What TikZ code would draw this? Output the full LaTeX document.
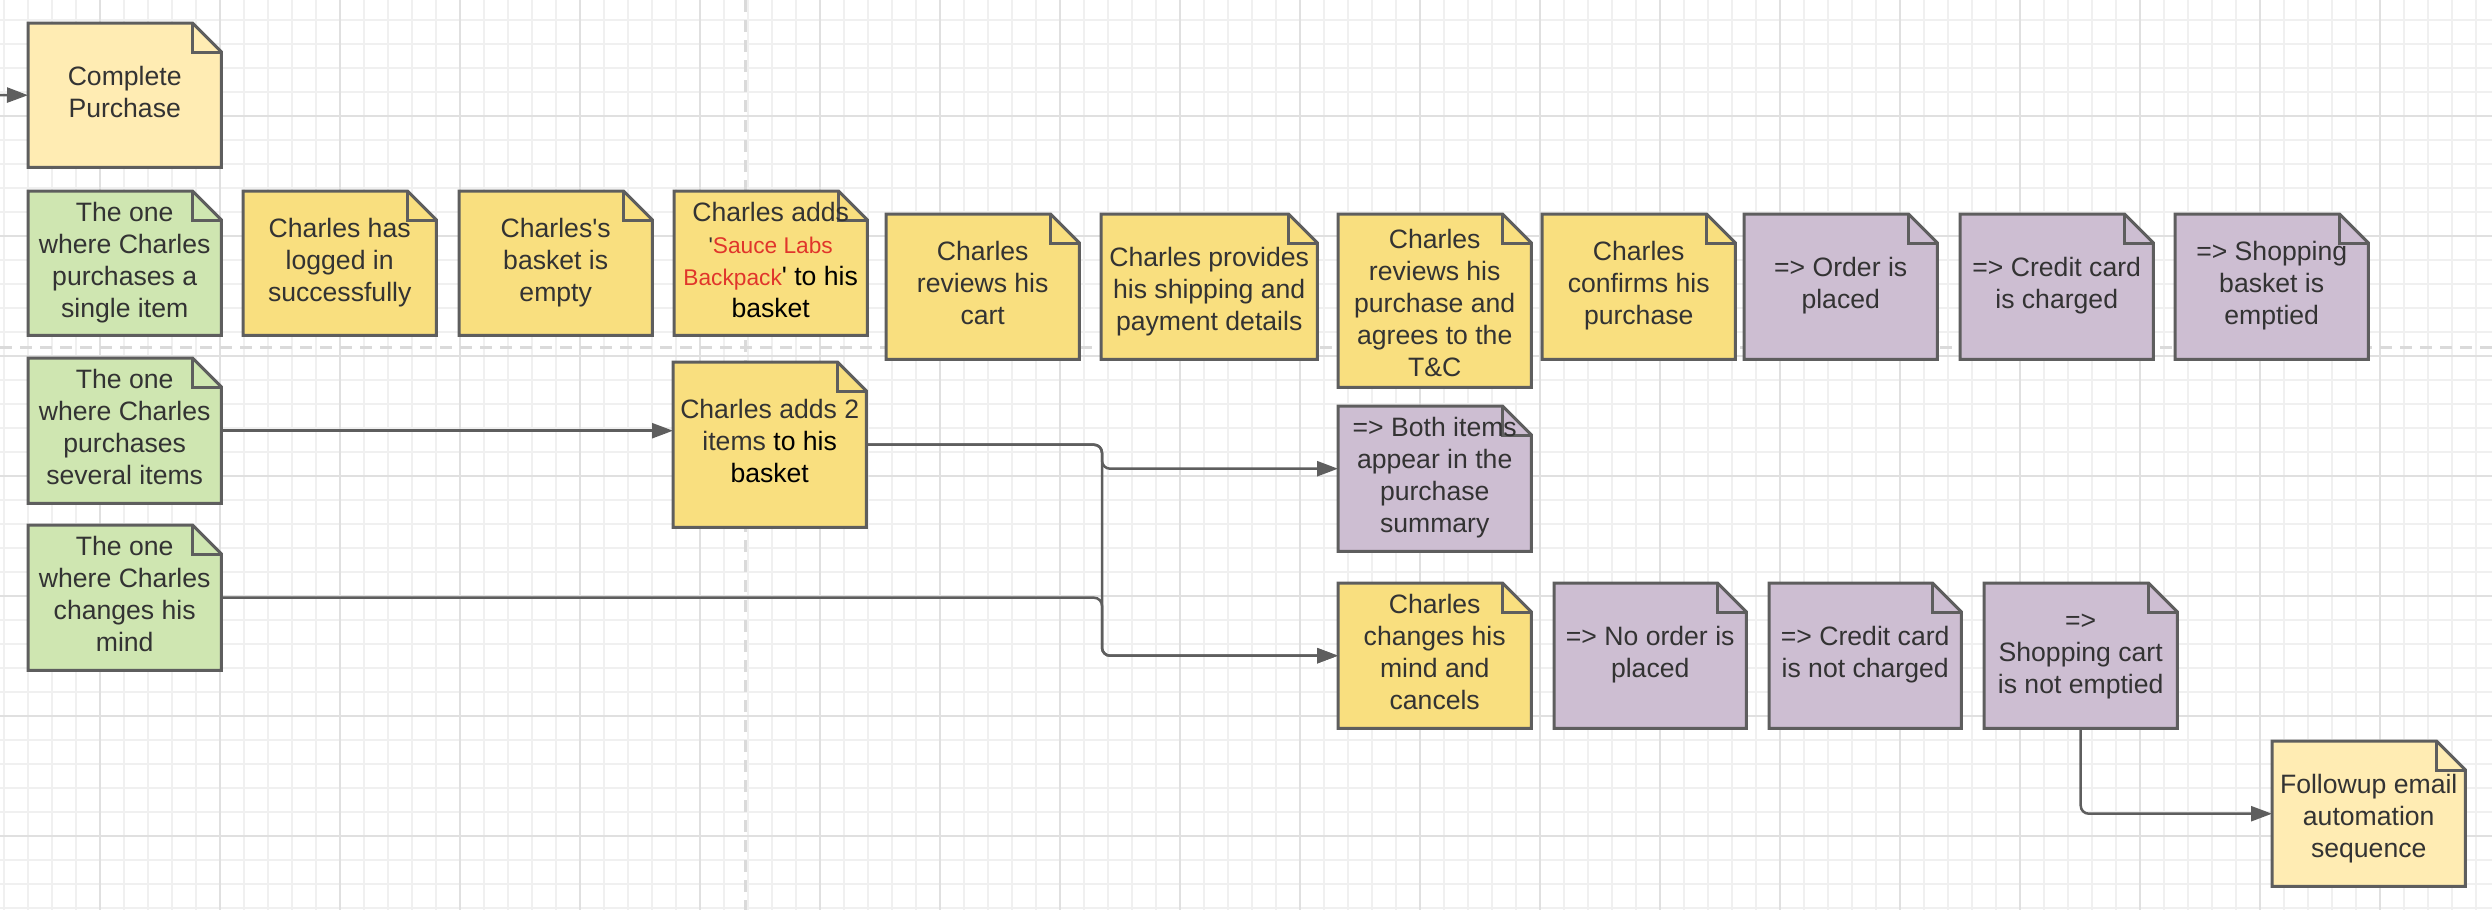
\documentclass[tikz,border=0pt]{standalone}
\usepackage{fontspec}
\setmainfont{Liberation Sans}
\usetikzlibrary{arrows.meta}
\definecolor{lyellow}{HTML}{FFECB3}
\definecolor{yellowf}{HTML}{F9DF7F}
\definecolor{greenf}{HTML}{CFE6B1}
\definecolor{purplef}{HTML}{CDBED2}
\definecolor{edgec}{HTML}{5E5E5E}
\definecolor{txt}{HTML}{333333}
\definecolor{redt}{HTML}{E0352B}
\definecolor{gridminor}{HTML}{F0F0F0}
\definecolor{gridmajor}{HTML}{E0E0E0}
\definecolor{sepc}{HTML}{DADADA}
\pgfdeclarelayer{gridlayer}
\pgfdeclarelayer{bglayer}
\pgfsetlayers{gridlayer,bglayer,main}
\tikzset{
  notetext/.style={draw=none, inner sep=0pt, align=center, text=txt,
    font=\fontsize{26.6}{32}\selectfont},
  noteline/.style={draw=edgec, line width=3pt, line join=miter},
  conn/.style={draw=edgec, line width=2.5pt, rounded corners=8pt,
    -{Triangle[length=21pt,width=15pt]}},
  sepline/.style={draw=sepc, line width=3pt, dash pattern=on 12pt off 8pt},
}
% #1 top strut (text nudge), #2 name, #3 x, #4 y, #5 width, #6 height, #7 fill, #8 text
\newcommand\sticky[8][20pt]{%
  \node[notetext, minimum width=#5pt, minimum height=#6pt, anchor=north west] (#2) at (#3,#4)
    {\rule{0pt}{#1}#8\rule[-8.2pt]{0pt}{0pt}};
  \begin{pgfonlayer}{bglayer}
    \draw[noteline, fill=#7] (#2.north west) -- ([xshift=-29pt]#2.north east)
      -- ([yshift=-29pt]#2.north east) -- (#2.south east) -- (#2.south west) -- cycle;
    \draw[noteline] ([xshift=-29pt]#2.north east) -- ([xshift=-29pt,yshift=-29pt]#2.north east)
      -- ([yshift=-29pt]#2.north east);
  \end{pgfonlayer}}
\newcommand\smallred[1]{{\fontsize{22.7}{28}\selectfont #1}}
\begin{document}
\begin{tikzpicture}[x=1pt, y=-1pt]
\useasboundingbox (0,0) rectangle (2492,910);
\begin{pgfonlayer}{gridlayer}
  \fill[white] (0,0) rectangle (2492,910);
  \foreach \x in {4,28,...,2492} \draw[gridminor, line width=1.3pt] (\x,0) -- (\x,910);
  \foreach \y in {20,44,...,910} \draw[gridminor, line width=1.3pt] (0,\y) -- (2492,\y);
  \foreach \x in {100,220,...,2492} \draw[gridmajor, line width=1.8pt] (\x,0) -- (\x,910);
  \foreach \y in {116,236,...,910} \draw[gridmajor, line width=1.8pt] (0,\y) -- (2492,\y);
  \draw[sepline] (0,347) -- (2492,347);
  \draw[sepline] (745,0) -- (745,910);
\end{pgfonlayer}

% top
\sticky{complete}{28}{23}{193}{144}{lyellow}{Complete\\Purchase}

% row 1
\sticky{green1}{28}{191}{193}{144}{greenf}{The one\\where Charles\\purchases a\\single item}
\sticky{logged}{243}{191}{193}{144}{yellowf}{Charles has\\logged in\\successfully}
\sticky{empty}{459}{191}{193}{144}{yellowf}{Charles\textquotesingle s\\basket is\\empty}
\sticky{adds1}{674}{191}{193}{144}{yellowf}{Charles adds\\\smallred{\textquotesingle\textcolor{redt}{Sauce Labs}}\\\smallred{\textcolor{redt}{Backpack}}\textcolor{black}{\textquotesingle\ to his}\\\textcolor{black}{basket}}
\sticky{cart}{886}{214}{193}{145}{yellowf}{Charles\\reviews his\\cart}
\sticky[32pt]{ship}{1101}{214}{216}{145}{yellowf}{Charles provides\\his shipping and\\payment details}
\sticky[32pt]{tandc}{1338}{214}{193}{173}{yellowf}{Charles\\reviews his\\purchase and\\agrees to the\\T\&C}
\sticky{confirm}{1542}{214}{193}{145}{yellowf}{Charles\\confirms his\\purchase}
\sticky{order}{1744}{214}{193}{145}{purplef}{=> Order is\\placed}
\sticky{charged}{1960}{214}{193}{145}{purplef}{=> Credit card\\is charged}
\sticky{emptied}{2175}{214}{193}{145}{purplef}{=> Shopping\\basket is\\emptied}

% row 2
\sticky{green2}{28}{358}{193}{145}{greenf}{The one\\where Charles\\purchases\\several items}
\sticky{adds2}{673}{362}{193}{165}{yellowf}{Charles adds 2\\items \textcolor{black}{to his}\\\textcolor{black}{basket}}
\sticky{both}{1338}{406}{193}{145}{purplef}{=> Both items\\appear in the\\purchase\\summary}

% row 3
\sticky{green3}{28}{525}{193}{145}{greenf}{The one\\where Charles\\changes his\\mind}
\sticky{cancels}{1338}{583}{193}{145}{yellowf}{Charles\\changes his\\mind and\\cancels}
\sticky{noorder}{1554}{583}{192}{145}{purplef}{=> No order is\\placed}
\sticky{notcharged}{1769}{583}{192}{145}{purplef}{=> Credit card\\is not charged}
\sticky{shopcart}{1984}{583}{193}{145}{purplef}{=>\\Shopping cart\\is not emptied}
\sticky[32pt]{followup}{2272}{741}{193}{145}{lyellow}{Followup email\\automation\\sequence}

% connectors
\coordinate (in0) at (0,95);
\coordinate (split) at (1102,0);
\coordinate (bothin) at ([yshift=10pt]both.west);
\draw[conn] (in0) -- (complete.west);
\draw[conn] (green2.east) -- (green2.east -| adds2.west);
\draw[conn] (adds2.east) -- (split |- adds2.east) -- (split |- bothin) -- (bothin);
\draw[conn] (adds2.east) -- (split |- adds2.east) -- (split |- cancels.west) -- (cancels.west);
\draw[conn] (green3.east) -- (split |- green3.east) -- (split |- cancels.west) -- (cancels.west);
\draw[conn] (shopcart.south) |- (followup.west);
\end{tikzpicture}
\end{document}
